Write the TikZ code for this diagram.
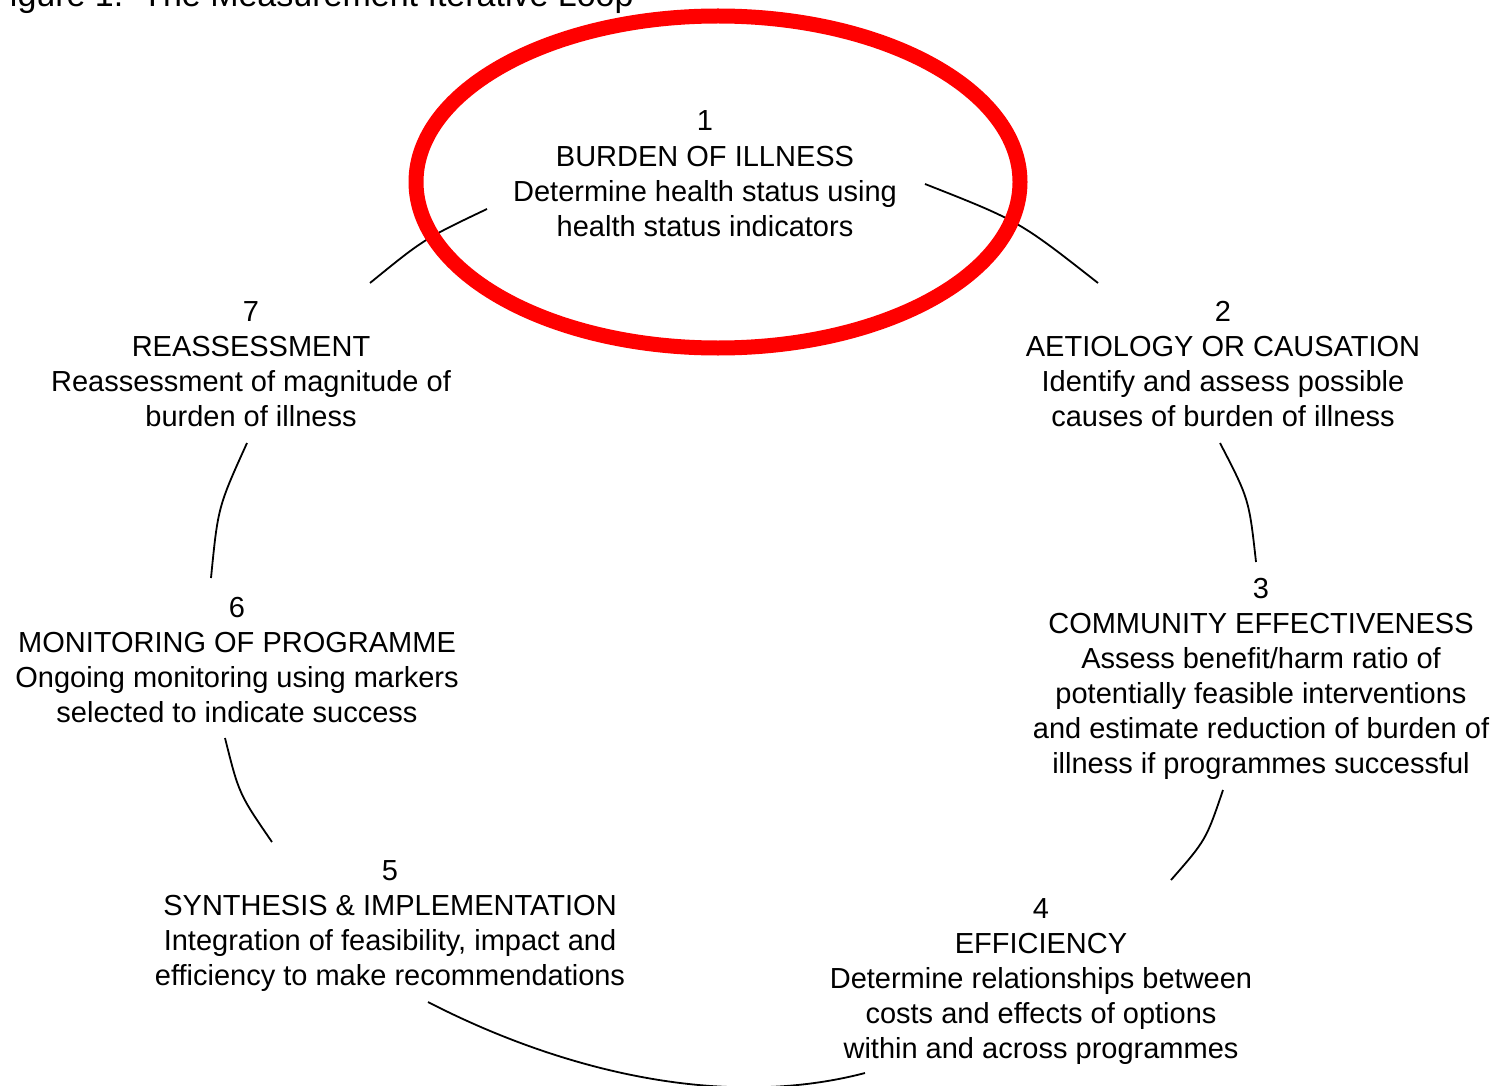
\documentclass[tikz,border=0pt]{standalone}
\usepackage{fontspec}
\setmainfont{Liberation Sans}
\begin{document}
\begin{tikzpicture}[x=1pt,y=-1pt,
  stage/.style={align=center, inner sep=0pt, anchor=base,
    font=\fontsize{29}{35}\selectfont},
  loopline/.style={line width=1.8pt, black},
  focus/.style={draw=red, line width=15pt}]
\useasboundingbox (0,0) rectangle (1501,1086);
\begin{scope}
\clip (0,0) rectangle (1501,1086);

% caption, partly outside the page
\node[anchor=base west, inner sep=0pt, font=\fontsize{34}{40}\selectfont]
  (title) at (-11,7) {Figure 1.\ \ The Measurement Iterative Loop};

% the seven stages of the loop (placed by the baseline of their last line)
\node[stage] (s1) at (705,236) {1\\BURDEN OF ILLNESS\\Determine health status using\\health status indicators};
\node[stage] (s2) at (1223,426) {2\\AETIOLOGY OR CAUSATION\\Identify and assess possible\\causes of burden of illness};
\node[stage] (s3) at (1261,773) {3\\COMMUNITY EFFECTIVENESS\\Assess benefit/harm ratio of\\potentially feasible interventions\\and estimate reduction of burden of\\illness if programmes successful};
\node[stage] (s4) at (1041,1058) {4\\EFFICIENCY\\Determine relationships between\\costs and effects of options\\within and across programmes};
\node[stage] (s5) at (390,985) {5\\SYNTHESIS \& IMPLEMENTATION\\Integration of feasibility, impact and\\efficiency to make recommendations};
\node[stage] (s6) at (237,722) {6\\MONITORING OF PROGRAMME\\Ongoing monitoring using markers\\selected to indicate success};
\node[stage] (s7) at (251,426) {7\\REASSESSMENT\\Reassessment of magnitude of\\burden of illness};

% ends of the arcs joining the stages
\coordinate (e12a) at (925,184);  \coordinate (e12b) at (1098,283);
\coordinate (e23a) at (1220,443); \coordinate (e23b) at (1256,562);
\coordinate (e34a) at (1223,790); \coordinate (e34b) at (1171,880);
\coordinate (e45a) at (865,1073); \coordinate (e45b) at (428,1002);
\coordinate (e56a) at (272,842);  \coordinate (e56b) at (225,738);
\coordinate (e67a) at (211,578);  \coordinate (e67b) at (247,443);
\coordinate (e71a) at (370,283);  \coordinate (e71b) at (487,209);

\draw[loopline] (e12a) .. controls (1019,221) .. (e12b);
\draw[loopline] (e23a) .. controls (1249,499) .. (e23b);
\draw[loopline] (e34a) .. controls (1206,840) .. (e34b);
\draw[loopline] (e45a) .. controls (716,1112) and (552,1066) .. (e45b);
\draw[loopline] (e56a) .. controls (239,794) .. (e56b);
\draw[loopline] (e67a) .. controls (218,507) .. (e67b);
\draw[loopline] (e71a) .. controls (424,239) .. (e71b);

% highlight round the first stage
\draw[focus] (718,182) ellipse [x radius=302, y radius=166];
\end{scope}
\end{tikzpicture}
\end{document}
